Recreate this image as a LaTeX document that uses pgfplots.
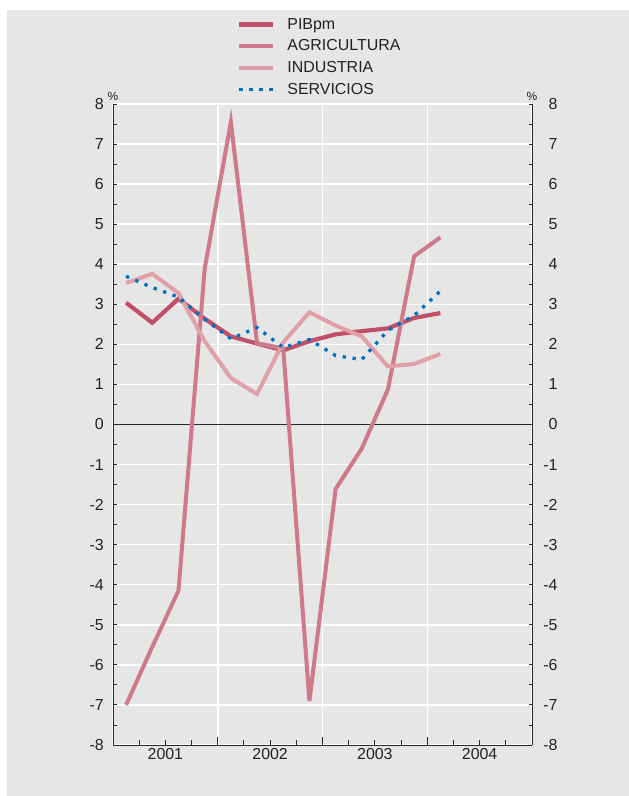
\documentclass[border=0pt]{standalone}
\usepackage{fontspec}
\setmainfont{Liberation Sans}
\usepackage{pgfplots}
\pgfplotsset{compat=1.18}
\definecolor{panel}{RGB}{230,230,230}
\definecolor{pib}{RGB}{192,80,106}
\definecolor{agri}{RGB}{206,122,138}
\definecolor{ind}{RGB}{224,160,168}
\definecolor{serv}{RGB}{0,112,192}
\definecolor{axc}{RGB}{40,40,40}
\definecolor{txt}{RGB}{34,34,34}
\begin{document}
\begin{tikzpicture}
\path[use as bounding box] (0bp,0bp) rectangle (629bp,796bp);
\fill[panel] (7bp,0bp) rectangle (629bp,786bp);
\begin{axis}[
  at={(113bp,51bp)}, anchor=south west,
  scale only axis, width=419bp, height=641bp,
  xmin=0, xmax=16, ymin=-8, ymax=8,
  axis x line*=bottom, axis y line*=left,
  axis line style={axc, line width=1bp},
  tick align=inside,
  xtick={0,4,8,12,16}, xticklabels={},
  minor xtick={1,2,3,5,6,7,9,10,11,13,14,15},
  major tick length=8bp, minor tick length=4.5bp,
  every tick/.style={axc, line width=0.9bp},
  extra x ticks={2,6,10,14},
  extra x tick labels={2001,2002,2003,2004},
  extra x tick style={major tick length=0pt, grid=none},
  ytick={-8,-7,...,8},
  ytick style={draw=none},
  xmajorgrids, ymajorgrids,
  major grid style={white, line width=1.5bp},
  tick label style={font=\fontsize{16}{19}\selectfont, text=txt},
  /pgf/number format/assume math mode=true,
  yticklabel style={anchor=east, xshift=-5.7bp},
  legend style={at={(0.296,1.137)}, anchor=north west, draw=none, fill=none,
    font=\fontsize{16}{19}\selectfont, text=txt, inner sep=0pt, row sep=5bp,
    /tikz/every odd column/.append style={column sep=10bp}},
  legend image code/.code={\draw[#1] (0bp,0bp) -- (34bp,0bp);},
  legend cell align=left,
  clip=false,
]
\draw[axc, line width=1bp] (axis cs:0,0) -- (axis cs:16,0);
\addplot[pib, line width=4.2bp] coordinates {(0.5,3.04) (1.5,2.54) (2.5,3.14) (3.5,2.64) (4.5,2.2) (5.5,2.02) (6.5,1.85) (7.5,2.08) (8.5,2.25) (9.5,2.33) (10.5,2.4) (11.5,2.66) (12.5,2.78)};
\addlegendentry{PIBpm}
\addplot[agri, line width=4bp] coordinates {(0.5,-7.0) (1.5,-5.55) (2.5,-4.15) (3.5,3.88) (4.5,7.55) (5.5,2.03) (6.5,1.9) (7.5,-6.9) (8.5,-1.61) (9.5,-0.6) (10.5,0.88) (11.5,4.2) (12.5,4.67)};
\addlegendentry{AGRICULTURA}
\addplot[ind, line width=4bp] coordinates {(0.5,3.53) (1.5,3.76) (2.5,3.28) (3.5,2.08) (4.5,1.16) (5.5,0.76) (6.5,2.05) (7.5,2.8) (8.5,2.47) (9.5,2.2) (10.5,1.45) (11.5,1.51) (12.5,1.76)};
\addlegendentry{INDUSTRIA}
\addplot[serv, line width=3.3bp, dash pattern=on 3.3bp off 6.7bp] coordinates {(0.5,3.7) (1.5,3.42) (2.5,3.18) (3.5,2.63) (4.5,2.14) (5.5,2.42) (6.5,1.92) (7.5,2.12) (8.5,1.72) (9.5,1.62) (10.5,2.35) (11.5,2.72) (12.5,3.33)};
\addlegendentry{SERVICIOS}
\node[font=\fontsize{12}{12}\selectfont, text=txt, anchor=south] at (rel axis cs:0,1) {\%};
\node[font=\fontsize{12}{12}\selectfont, text=txt, anchor=south] at (rel axis cs:1,1) {\%};
\end{axis}
\begin{axis}[
  at={(113bp,51bp)}, anchor=south west,
  scale only axis, width=419bp, height=641bp,
  xmin=0, xmax=16, ymin=-8, ymax=8,
  hide x axis, axis y line=box,
  axis line style={axc, line width=1bp},
  tick align=inside,
  ytick={-8,-7,...,8}, minor y tick num=1,
  major tick length=3.5bp, minor tick length=3.5bp,
  every tick/.style={axc, line width=0.9bp},
  yticklabel pos=right,
  tick label style={font=\fontsize{16}{19}\selectfont, text=txt},
  /pgf/number format/assume math mode=true,
  yticklabel style={anchor=east, xshift=29bp},
]
\end{axis}
\end{tikzpicture}
\end{document}
